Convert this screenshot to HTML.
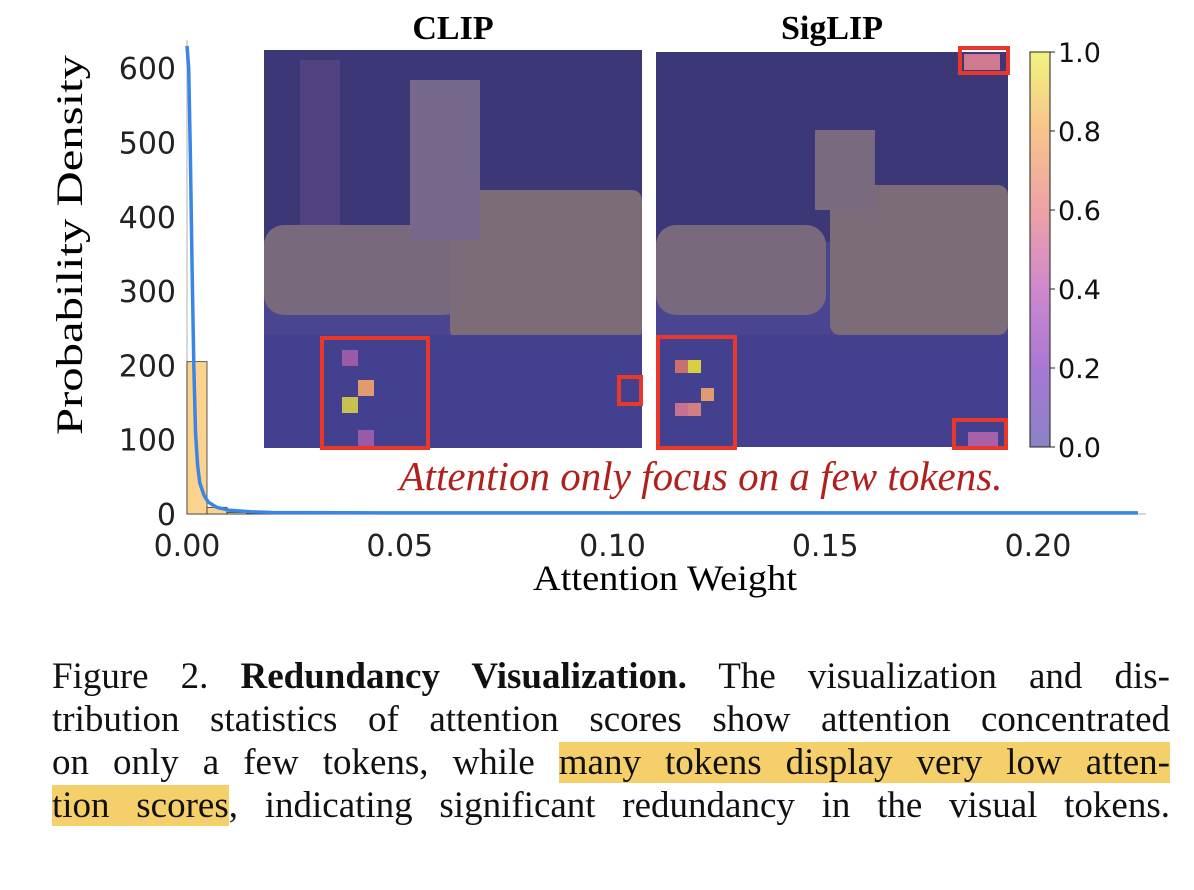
<!DOCTYPE html>
<html><head><meta charset="utf-8"><style>
body{margin:0;background:#fff;width:1194px;height:890px;overflow:hidden;position:relative}
.cap{position:absolute;left:52px;width:1118px;font-family:"Liberation Serif",serif;font-size:37px;color:#111;line-height:43px;text-align:justify;text-align-last:justify;white-space:nowrap}
.hl{background:#f5d06a}
</style></head><body>
<svg id="chart" width="1194" height="630" style="position:absolute;left:0;top:0" xmlns="http://www.w3.org/2000/svg">
<defs>
<linearGradient id="cb" x1="0" y1="1" x2="0" y2="0">
<stop offset="0" stop-color="#8a82c6"/><stop offset="0.2" stop-color="#a878d4"/><stop offset="0.4" stop-color="#cf88cc"/><stop offset="0.6" stop-color="#eea2a6"/><stop offset="0.8" stop-color="#f6c48c"/><stop offset="1" stop-color="#f2f27e"/>
</linearGradient>
</defs>
<g id="axes"></g>
<g id="marks"></g>
<g>
<rect x="264" y="50" width="378" height="398" fill="#4a4590"/>
<rect x="264" y="50" width="378" height="190" fill="#3c3878"/>
<rect x="300" y="60" width="40" height="180" fill="#524282"/>
<rect x="264" y="225" width="200" height="90" rx="20" fill="#786a7c"/>
<rect x="450" y="190" width="192" height="150" rx="10" fill="#7c6c78"/>
<rect x="410" y="80" width="70" height="160" fill="#76688a"/>
<rect x="264" y="335" width="378" height="113" fill="#444090"/>
<rect x="322" y="338" width="106" height="110" fill="none" stroke="#e8382a" stroke-width="4"/>
<rect x="342" y="350" width="16" height="16" fill="#9a5aa8"/>
<rect x="358" y="380" width="16" height="16" fill="#e09a70"/>
<rect x="342" y="397" width="16" height="16" fill="#c8c050"/>
<rect x="358" y="430" width="16" height="16" fill="#9a5aa8"/>
<rect x="619" y="377" width="22" height="27" fill="none" stroke="#e8382a" stroke-width="4"/>
</g>
<text x="453" y="39" font-family="Liberation Serif,serif" font-weight="bold" font-size="34" text-anchor="middle">CLIP</text>
<g>
<rect x="656" y="52" width="352" height="395" fill="#4a4590"/>
<rect x="656" y="52" width="352" height="190" fill="#3c3878"/>
<rect x="656" y="225" width="170" height="90" rx="20" fill="#786a7c"/>
<rect x="830" y="185" width="178" height="150" rx="10" fill="#7c6c78"/>
<rect x="815" y="130" width="60" height="80" fill="#7a6a80"/>
<rect x="656" y="335" width="352" height="112" fill="#444090"/>
<rect x="658" y="337" width="77" height="111" fill="none" stroke="#e8382a" stroke-width="4"/>
<rect x="675" y="360" width="13" height="13" fill="#c87070"/>
<rect x="688" y="360" width="13" height="13" fill="#d8d040"/>
<rect x="701" y="388" width="13" height="13" fill="#e09a70"/>
<rect x="675" y="403" width="13" height="13" fill="#c87090"/>
<rect x="688" y="403" width="13" height="13" fill="#d08080"/>
<rect x="964" y="54" width="36" height="16" fill="#d07a90"/>
<rect x="960" y="48" width="48" height="25" fill="none" stroke="#e8382a" stroke-width="4"/>
<rect x="968" y="432" width="30" height="14" fill="#a860a8"/>
<rect x="954" y="420" width="52" height="28" fill="none" stroke="#e8382a" stroke-width="4"/>
</g>
<text x="832" y="39" font-family="Liberation Serif,serif" font-weight="bold" font-size="34" text-anchor="middle">SigLIP</text>
<rect x="1030" y="52" width="20" height="395" fill="url(#cb)" stroke="#222" stroke-width="1"/>
<g id="cbticks" font-family="DejaVu Sans,sans-serif" font-size="27" fill="#111"></g>
<text x="701" y="490" font-family="Liberation Serif,serif" font-style="italic" font-size="41" fill="#b0201c" text-anchor="middle" textLength="603">Attention only focus on a few tokens.</text>
<text x="665" y="590" font-family="Liberation Serif,serif" font-size="36" text-anchor="middle" textLength="264" lengthAdjust="spacingAndGlyphs">Attention Weight</text>
<text transform="translate(82,245) rotate(-90)" font-family="Liberation Serif,serif" font-size="37" text-anchor="middle" textLength="380" lengthAdjust="spacingAndGlyphs">Probability Density</text>
</svg>
<div class="cap" style="top:655px">Figure 2. <b>Redundancy Visualization.</b> The visualization and dis-</div>
<div class="cap" style="top:698px">tribution statistics of attention scores show attention concentrated</div>
<div class="cap" style="top:741px">on only a few tokens, while <span class="hl">many tokens display very low atten-</span></div>
<div class="cap" style="top:784px"><span class="hl">tion scores</span>, indicating significant redundancy in the visual tokens.</div>
<script>
const xTicks=[0,0.05,0.10,0.15,0.20];
const xTickLabels=["0.00","0.05","0.10","0.15","0.20"];
const yTicks=[0,100,200,300,400,500,600];
const binWidth=0.0047;
const histValues=[205,9,2,1,0.8,0.6,0.5,0.4,0.4,0.3,0.3,0.3,0.2,0.2,0.2,0.2,0.2,0.2,0.2,0.2,0.2,0.2,0.2,0.2,0.2,0.2,0.2,0.2,0.2,0.2,0.2,0.2,0.2,0.2,0.2,0.2,0.2,0.2,0.2,0.2,0.2,0.2,0.2,0.2,0.2,0.2,0.2];
const kdeX=[0,0.0004,0.0008,0.0012,0.0016,0.002,0.0025,0.003,0.004,0.005,0.007,0.01,0.015,0.02,0.05,0.1,0.15,0.2,0.2235];
const kdeY=[630,600,480,330,200,110,65,42,25,16,9,5,3,2,1.5,1.5,1.5,1.5,1.5];
const cbTicks=[0,0.2,0.4,0.6,0.8,1.0];
const NS="http://www.w3.org/2000/svg";
const X=v=>187+v*4255, Y=v=>514-v*0.743, CB=v=>447-v*395;
function mk(t,a,p){const e=document.createElementNS(NS,t);for(const k in a)e.setAttribute(k,a[k]);p.appendChild(e);return e;}
const axes=document.getElementById('axes'),marks=document.getElementById('marks');
let e=mk('line',{x1:187,y1:40,x2:187,y2:514,stroke:'#ccc','stroke-width':1.5},axes);


e=mk('line',{x1:187,y1:514,x2:1146,y2:514,stroke:'#ccc','stroke-width':1.5},axes);


xTicks.forEach((v,i)=>{const t=mk('text',{x:X(v),y:556,'font-family':'DejaVu Sans,sans-serif','font-size':30,'text-anchor':'middle',fill:'#222'},axes);t.textContent=xTickLabels[i];

});
yTicks.forEach(v=>{const t=mk('text',{x:176,y:Y(v)+11,'font-family':'DejaVu Sans,sans-serif','font-size':30,'text-anchor':'end',fill:'#222'},axes);t.textContent=v;

});
histValues.forEach((v,i)=>{const x0=X(i*binWidth),x1=X((i+1)*binWidth);const r=mk('rect',{x:x0,y:Y(v),width:x1-x0,height:514-Y(v),fill:'#fbd38f',stroke:'#333','stroke-width':0.8},marks);

});
const p=mk('polyline',{points:kdeX.map((x,i)=>X(x)+','+Y(kdeY[i])).join(' '),fill:'none',stroke:'#3a86e6','stroke-width':3.5},marks);


const cbg=document.getElementById('cbticks');
cbTicks.forEach(v=>{mk('line',{x1:1050,x2:1055,y1:CB(v),y2:CB(v),stroke:'#222'},cbg);const t=mk('text',{x:1058,y:CB(v)+10},cbg);t.textContent=v.toFixed(1);

});
</script>
</body></html>
